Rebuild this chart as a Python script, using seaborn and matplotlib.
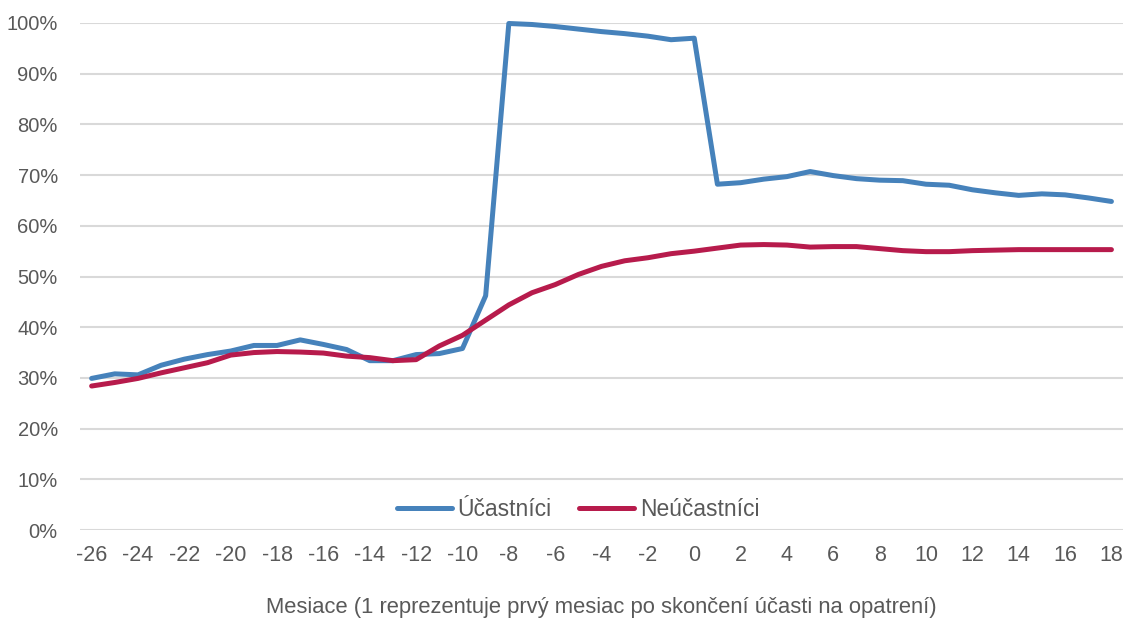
import numpy as np
import pandas as pd
import matplotlib
matplotlib.use("Agg")
import matplotlib.pyplot as plt
import seaborn as sns
from matplotlib.ticker import FuncFormatter

# months relative to end of participation
months = list(range(-26, 19))

# share (%) - participants
ucastnici = [29.9, 30.8, 30.6, 32.5, 33.7, 34.6, 35.3, 36.4, 36.4, 37.5, 36.6, 35.6, 33.4, 33.4, 34.6, 34.8, 35.8,
             46.2, 99.9, 99.7, 99.3, 98.8, 98.3, 97.9, 97.4, 96.7, 97.0,
             68.2, 68.5, 69.2, 69.7, 70.7, 69.9, 69.3, 69.0, 68.9, 68.2, 68.0, 67.1, 66.5, 66.0, 66.3, 66.1, 65.5, 64.8]
# share (%) - non-participants
neucastnici = [28.4, 29.1, 29.9, 31.0, 32.0, 33.0, 34.5, 35.0, 35.2, 35.1, 34.9, 34.3, 34.0, 33.4, 33.6, 36.3, 38.4,
               41.4, 44.4, 46.8, 48.4, 50.4, 52.0, 53.1, 53.7, 54.5, 55.0,
               55.6, 56.2, 56.3, 56.2, 55.8, 55.9, 55.9, 55.5, 55.1, 54.9, 54.9, 55.1, 55.2, 55.3, 55.3, 55.3, 55.3, 55.3]

series_names = ["Účastníci", "Neúčastníci"]
colors = ["#4682BB", "#B71B4C"]
x_ticks = list(range(-26, 19, 2))
y_ticks = list(range(0, 101, 10))

df = pd.DataFrame({
    "month": months * 2,
    "value": ucastnici + neucastnici,
    "group": [series_names[0]] * len(months) + [series_names[1]] * len(months),
})

sns.set_style("white")
plt.rcParams["font.family"] = ["Liberation Sans", "DejaVu Sans"]
plt.rcParams["axes.unicode_minus"] = False
text_color = "#595959"

fig = plt.figure(figsize=(11.29, 6.21), dpi=100)
ax = fig.add_axes([0.0709, 0.1465, 0.9238, 0.8165])

sns.lineplot(data=df, x="month", y="value", hue="group", palette=colors,
             linewidth=3.6, ax=ax, clip_on=False, zorder=3)

ax.set_xlim(-26.5, 18.5)
ax.set_ylim(0, 100)
ax.set_xticks(x_ticks)
ax.set_yticks(y_ticks)
ax.yaxis.set_major_formatter(FuncFormatter(lambda v, p: f"{v:.0f}%"))
ax.grid(axis="y", color="#D9D9D9", linewidth=1.5, zorder=0)
ax.grid(axis="x", visible=False)
for s in ax.spines.values():
    s.set_visible(False)

ax.tick_params(axis="y", length=0, pad=16, labelsize=14.5, labelcolor=text_color)
ax.tick_params(axis="x", length=0, pad=11, labelsize=15.5, labelcolor=text_color)

ax.set_xlabel("Mesiace (1 reprezentuje prvý mesiac po skončení účasti na opatrení)",
              fontsize=15.8, color=text_color, labelpad=22)
ax.set_ylabel("")

leg = ax.legend(loc="center", bbox_to_anchor=(0.4775, 0.041), ncol=2, frameon=False,
                fontsize=16.5, handlelength=2.4, handletextpad=0.25, columnspacing=1.2)
for t in leg.get_texts():
    t.set_color(text_color)

fig.savefig("out.png", dpi=100)
